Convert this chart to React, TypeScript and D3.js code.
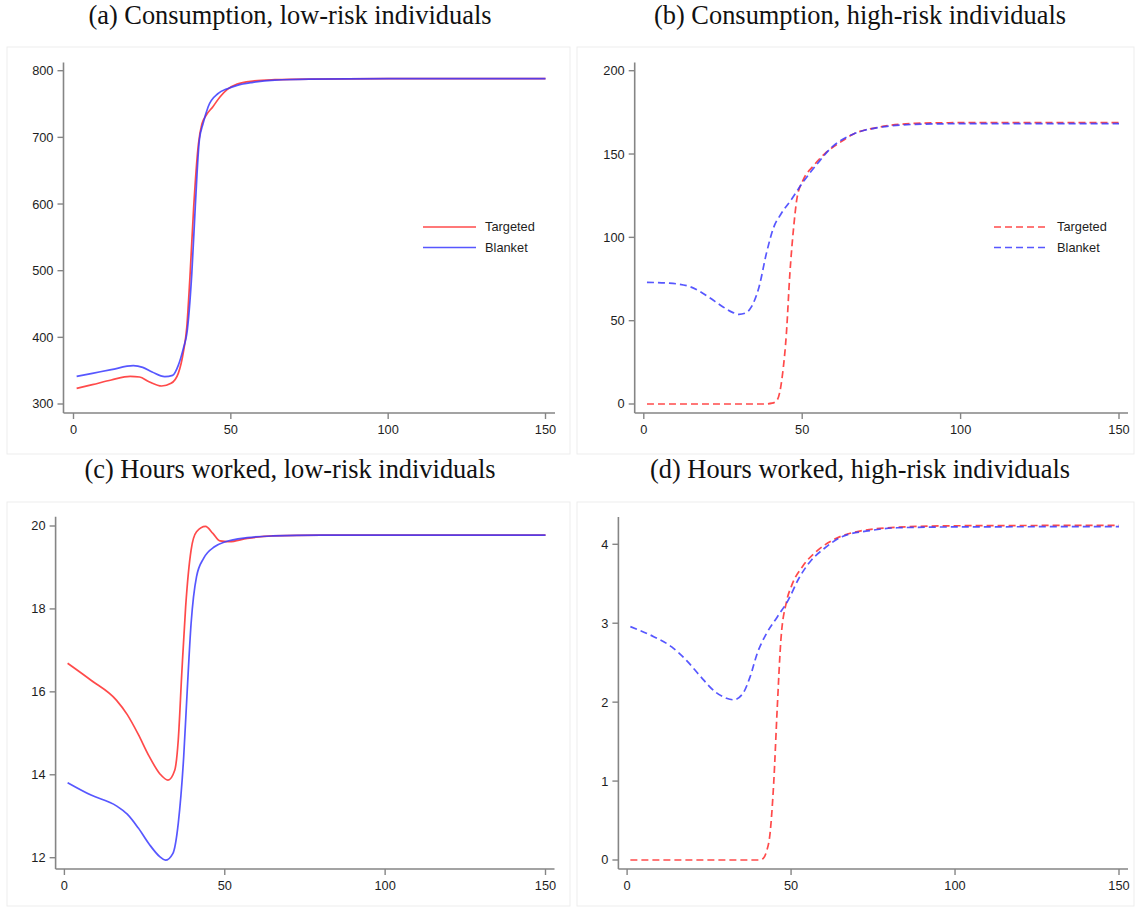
import React from "react";
import * as d3 from "d3";

// ---------- DATA ----------
const titles = [
  "(a) Consumption, low-risk individuals",
  "(b) Consumption, high-risk individuals",
  "(c) Hours worked, low-risk individuals",
  "(d) Hours worked, high-risk individuals",
];
const seriesNames = ["Targeted", "Blanket"];
const xTicks = [0, 50, 100, 150];

const yTicksA = [300, 400, 500, 600, 700, 800];
const yTicksB = [0, 50, 100, 150, 200];
const yTicksC = [12, 14, 16, 18, 20];
const yTicksD = [0, 1, 2, 3, 4];

// (a) consumption, low-risk
const aTargetedT = [1, 6, 12, 18, 21, 24, 28, 31, 33.3, 35, 36, 37, 38.2, 39.7, 40.8, 42, 44.3, 46.6, 48.9, 52, 57, 64, 75, 100, 150];
const aTargetedV = [323.5, 329, 336, 341.5, 340.5, 333.5, 327, 331, 346, 380, 415, 490, 596, 690, 720, 732, 746, 761, 772, 780, 784.5, 786.5, 787.5, 788, 788];
const aBlanketT = [1, 6, 12, 19, 22, 25, 29, 31.5, 33.3, 35, 36, 37.6, 38.7, 40, 41.2, 42.8, 46, 48.9, 52, 57, 64, 75, 100, 150];
const aBlanketV = [341.5, 346, 351.5, 357.5, 355, 348, 341, 343, 358, 385, 405, 496, 596, 696, 721, 746, 766, 773, 778, 782.5, 786, 787.5, 788, 788];

// (b) consumption, high-risk
const bTargetedT = [1, 20, 38, 40.5, 42.1, 43.8, 45, 46.1, 47.3, 48.4, 50.2, 53.6, 57, 62, 66.2, 74, 85.7, 100, 150];
const bTargetedV = [0, 0, 0, 0.5, 2.4, 18, 42, 78, 106, 124, 134, 143, 150, 157, 162, 166, 168.4, 168.8, 168.8];
const bBlanketT = [1, 8, 14.6, 20.3, 24.9, 28, 30, 32, 34, 36.4, 38.7, 41, 43.3, 46.7, 50.2, 54.7, 59.3, 66.2, 74.3, 85.7, 100, 150];
const bBlanketV = [73, 72.5, 70.4, 64.4, 58.4, 55, 53.8, 54.5, 58.4, 70.4, 90.4, 106, 114, 123, 133, 144, 154, 162, 166, 167.8, 168.2, 168.2];

// (c) hours, low-risk
const cTargetedT = [1, 8.3, 16.2, 19.6, 23, 26.4, 29.8, 32.3, 34.4, 35.5, 36.6, 37.8, 39.5, 41.2, 44, 46.3, 48.5, 51.4, 57, 65, 80, 150];
const cTargetedV = [16.69, 16.28, 15.8, 15.45, 14.98, 14.45, 14.02, 13.87, 14.11, 14.84, 16.45, 18.05, 19.42, 19.86, 19.99, 19.82, 19.64, 19.62, 19.7, 19.76, 19.78, 19.78];
const cBlanketT = [1, 8.3, 16.2, 19.6, 23, 26.4, 29.8, 31.5, 33.8, 35.5, 37.2, 38.3, 39.5, 41.2, 43.4, 46.8, 50.2, 57, 65, 80, 150];
const cBlanketV = [13.81, 13.51, 13.25, 13.05, 12.72, 12.33, 12.02, 11.94, 12.1, 12.83, 14.44, 16.04, 17.65, 18.78, 19.22, 19.5, 19.62, 19.72, 19.76, 19.78, 19.78];

// (d) hours, high-risk
const dTargetedT = [1, 20, 40, 41.5, 42.5, 43.6, 44.7, 45.8, 46.9, 48.6, 50.2, 53.5, 58, 63.5, 71.3, 82, 100, 150];
const dTargetedV = [0, 0, 0, 0.02, 0.105, 0.34, 0.97, 1.94, 2.79, 3.27, 3.48, 3.72, 3.92, 4.07, 4.17, 4.215, 4.235, 4.24];
const dBlanketT = [1, 8.1, 13.6, 18.1, 22.5, 26.9, 30.3, 32.5, 35.3, 37.5, 39.7, 42.5, 45.8, 49.1, 52.4, 55.8, 60.2, 65.7, 73.5, 82.4, 100, 150];
const dBlanketV = [2.957, 2.83, 2.7, 2.53, 2.32, 2.13, 2.05, 2.03, 2.11, 2.32, 2.62, 2.87, 3.08, 3.29, 3.57, 3.78, 3.95, 4.1, 4.17, 4.21, 4.22, 4.224];

// ---------- STYLE ----------
const RED = "#ff2a2a";
const BLUE = "#3a3aff";
const AXIS = "#858585";
const TEXT = "#1e1e1e";
const SANS = "'Liberation Sans', Arial, sans-serif";
const SERIF = "'Liberation Serif', 'Times New Roman', serif";

type PanelCfg = {
  title: string;
  titleX: number;
  titleY: number;
  box: [number, number, number, number];
  axisX: number;
  axisTop: number;
  axisBottom: number;
  axisRight: number;
  x0: number;
  x1: number;
  yDomain: [number, number];
  yRange: [number, number];
  yTicks: number[];
  dashed: boolean;
  legend: null | { x0: number; x1: number; tx: number; y: number[] };
  series: { t: number[]; v: number[]; color: string }[];
};

const panels: PanelCfg[] = [
  {
    title: titles[0], titleX: 290, titleY: 24,
    box: [7, 47, 563, 407],
    axisX: 63.5, axisTop: 62.5, axisBottom: 413, axisRight: 555,
    x0: 73.5, x1: 545.5,
    yDomain: [300, 800], yRange: [404, 70.7], yTicks: yTicksA, dashed: false,
    legend: { x0: 423, x1: 476, tx: 485, y: [227, 247.5] },
    series: [
      { t: aTargetedT, v: aTargetedV, color: RED },
      { t: aBlanketT, v: aBlanketV, color: BLUE },
    ],
  },
  {
    title: titles[1], titleX: 860, titleY: 24,
    box: [577, 47, 557, 407],
    axisX: 634.7, axisTop: 62.5, axisBottom: 413, axisRight: 1128,
    x0: 643.8, x1: 1119,
    yDomain: [0, 200], yRange: [404, 70.7], yTicks: yTicksB, dashed: true,
    legend: { x0: 994, x1: 1047, tx: 1057, y: [227, 247.5] },
    series: [
      { t: bTargetedT, v: bTargetedV, color: RED },
      { t: bBlanketT, v: bBlanketV, color: BLUE },
    ],
  },
  {
    title: titles[2], titleX: 290, titleY: 478,
    box: [7, 502, 563, 404],
    axisX: 55.6, axisTop: 516.7, axisBottom: 869, axisRight: 554.5,
    x0: 64.4, x1: 545.5,
    yDomain: [12, 20], yRange: [857.7, 526], yTicks: yTicksC, dashed: false,
    legend: null,
    series: [
      { t: cTargetedT, v: cTargetedV, color: RED },
      { t: cBlanketT, v: cBlanketV, color: BLUE },
    ],
  },
  {
    title: titles[3], titleX: 860, titleY: 478,
    box: [577, 502, 557, 404],
    axisX: 618.4, axisTop: 517, axisBottom: 869, axisRight: 1128,
    x0: 627.1, x1: 1119,
    yDomain: [0, 4], yRange: [860, 544.3], yTicks: yTicksD, dashed: true,
    legend: null,
    series: [
      { t: dTargetedT, v: dTargetedV, color: RED },
      { t: dBlanketT, v: dBlanketV, color: BLUE },
    ],
  },
];

function Panel({ p }: { p: PanelCfg }) {
  const x = d3.scaleLinear().domain([0, 150]).range([p.x0, p.x1]);
  const y = d3.scaleLinear().domain(p.yDomain).range(p.yRange);
  const line = d3
    .line<[number, number]>()
    .x((d) => x(d[0]))
    .y((d) => y(d[1]))
    .curve(d3.curveMonotoneX);
  const dash = p.dashed ? "7,4" : undefined;
  return (
    <g>
      <rect x={p.box[0]} y={p.box[1]} width={p.box[2]} height={p.box[3]} fill="#fff" stroke="#ededed" strokeWidth={1} />
      <text x={p.titleX} y={p.titleY} textAnchor="middle" fontFamily={SERIF} fontSize={26.4} fill="#111">
        {p.title}
      </text>
      <line x1={p.axisX} x2={p.axisX} y1={p.axisTop} y2={p.axisBottom} stroke={AXIS} strokeWidth={1.6} />
      <line x1={p.axisX} x2={p.axisRight} y1={p.axisBottom} y2={p.axisBottom} stroke={AXIS} strokeWidth={1.6} />
      {p.yTicks.map((t) => (
        <g key={"y" + t}>
          <line x1={p.axisX - 6} x2={p.axisX} y1={y(t)} y2={y(t)} stroke={AXIS} strokeWidth={1.4} />
          <text x={p.axisX - 10} y={y(t)} dy="0.35em" textAnchor="end" fontFamily={SANS} fontSize={12.8} fill={TEXT}>
            {t}
          </text>
        </g>
      ))}
      {xTicks.map((t) => (
        <g key={"x" + t}>
          <line x1={x(t)} x2={x(t)} y1={p.axisBottom} y2={p.axisBottom + 6} stroke={AXIS} strokeWidth={1.4} />
          <text x={x(t)} y={p.axisBottom + 21} textAnchor="middle" fontFamily={SANS} fontSize={12.8} fill={TEXT}>
            {t}
          </text>
        </g>
      ))}
      {p.series.map((s, i) => (
        <path
          key={i}
          d={line(s.t.map((t, j) => [t, s.v[j]] as [number, number])) || ""}
          fill="none"
          stroke={s.color}
          strokeOpacity={0.85}
          strokeWidth={1.7}
          strokeDasharray={dash}
        />
      ))}
      {p.legend &&
        p.series.map((s, i) => (
          <g key={"lg" + i}>
            <line
              x1={p.legend!.x0}
              x2={p.legend!.x1}
              y1={p.legend!.y[i]}
              y2={p.legend!.y[i]}
              stroke={s.color}
              strokeOpacity={0.85}
              strokeWidth={1.7}
              strokeDasharray={dash}
            />
            <text x={p.legend!.tx} y={p.legend!.y[i]} dy="0.35em" fontFamily={SANS} fontSize={12.8} fill={TEXT}>
              {seriesNames[i]}
            </text>
          </g>
        ))}
    </g>
  );
}

export default function App() {
  return (
    <svg
      width={1137}
      height={909}
      viewBox="0 0 1137 909"
      style={{ position: "absolute", left: 0, top: 0, background: "#fff" }}
    >
      <rect x={0} y={0} width={1137} height={909} fill="#fff" />
      {panels.map((p, i) => (
        <Panel key={i} p={p} />
      ))}
    </svg>
  );
}
